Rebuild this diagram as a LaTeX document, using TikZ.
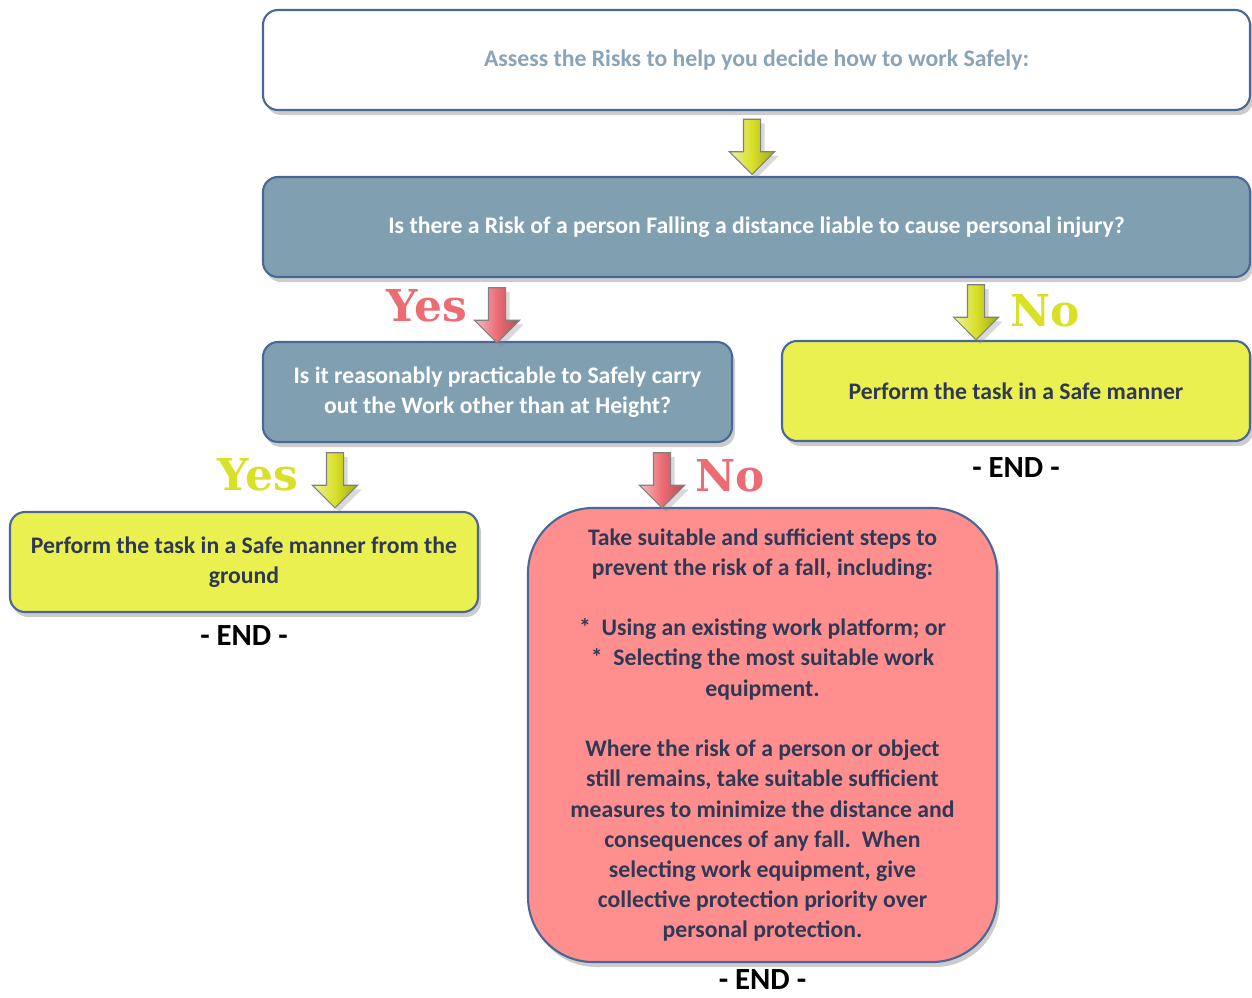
\documentclass[tikz,border=0pt]{standalone}
\usepackage{fontspec}
\setmainfont{Carlito}
\newfontfamily\signfont{DejaVu Serif}
\usetikzlibrary{shapes,arrows,shadows,positioning}

\definecolor{frameblue}{RGB}{74,104,150}
\definecolor{steel}{RGB}{128,160,178}
\definecolor{lemon}{RGB}{234,240,80}
\definecolor{salmon}{RGB}{255,143,143}
\definecolor{ink}{RGB}{47,56,84}
\definecolor{mist}{RGB}{138,163,182}
\definecolor{redarrow}{RGB}{236,108,116}
\definecolor{yellowarrow}{RGB}{216,224,40}

\tikzstyle{box} = [draw=frameblue, line width=1.2pt, rounded corners=0.3cm, minimum height=2cm, align=center, font=\bfseries\fontsize{13.5}{17.2}\selectfont, drop shadow={opacity=0.4, shadow xshift=0.06cm, shadow yshift=-0.1cm}]
\tikzstyle{question} = [box, fill=steel, text=white]
\tikzstyle{answer} = [box, fill=lemon, text=ink]
\tikzstyle{down} = [single arrow, draw=black!50, line width=0.6pt, rotate=-90, minimum height=1.1cm, inner xsep=0pt, inner ysep=0.16cm, single arrow head extend=0.28cm, drop shadow={opacity=0.3}]
\tikzstyle{yellowdown} = [down, left color=yellowarrow!45!white, right color=yellowarrow!75!black, middle color=yellowarrow]
\tikzstyle{reddown} = [down, left color=redarrow!45!white, right color=redarrow!75!black, middle color=redarrow]
\tikzstyle{yesno} = [font=\signfont\bfseries\fontsize{25}{25}\selectfont]
\tikzstyle{stop} = [font=\bfseries\fontsize{17.5}{18}\selectfont, inner sep=0pt]

\begin{document}
\begin{tikzpicture}
\useasboundingbox (0,0) rectangle (25.04,-19.94);

\node[box, fill=white, text=mist, minimum width=19.74cm] (assess) at (15.13,-1.2) {Assess the Risks to help you decide how to work Safely:};
\node[question, minimum width=19.74cm] (risk) at (15.13,-4.54) {Is there a Risk of a person Falling a distance liable to cause personal injury?};
\node[question, minimum width=9.38cm] (ground) at (9.95,-7.84) {Is it reasonably practicable to Safely carry\\out the Work other than at Height?};
\node[answer, minimum width=9.36cm] (safe) at (20.32,-7.82) {Perform the task in a Safe manner};
\node[answer, minimum width=9.36cm] (fromground) at (4.88,-11.24) {Perform the task in a Safe manner from the\\ground};
\node[box, fill=salmon, text=ink, rounded corners=1.3cm, minimum width=9.38cm, minimum height=9.08cm] (steps) at (15.25,-14.7)
  {Take suitable and sufficient steps to\\
   prevent the risk of a fall, including:\\[17.2pt]
   *\ \ Using an existing work platform; or\\
   *\ \ Selecting the most suitable work\\
   equipment.\\[17.2pt]
   Where the risk of a person or object\\
   still remains, take suitable sufficient\\
   measures to minimize the distance and\\
   consequences of any fall.\ \ When\\
   selecting work equipment, give\\
   collective protection priority over\\
   personal protection.};

% arrows
\node[yellowdown] (a1) at (15.04,-2.85) {};
\node[reddown] (a2) at (9.94,-6.22) {};
\node[yellowdown] (a3) at (19.52,-6.16) {};
\node[yellowdown] (a4) at (6.7,-9.52) {};
\node[reddown] (a5) at (13.24,-9.52) {};

\node[yesno, text=redarrow] (yes1) at (8.54,-6.12) {Yes};
\node[yesno, text=yellowarrow] (no1) at (20.9,-6.22) {No};
\node[yesno, text=yellowarrow] (yes2) at (5.16,-9.5) {Yes};
\node[yesno, text=redarrow] (no2) at (14.6,-9.52) {No};

% ends
\node[stop, below=0.3cm of safe] (end1) {- END -};
\node[stop, below=0.24cm of fromground] (end2) {- END -};
\node[stop, below=0.12cm of steps] (end3) {- END -};
\end{tikzpicture}
\end{document}
